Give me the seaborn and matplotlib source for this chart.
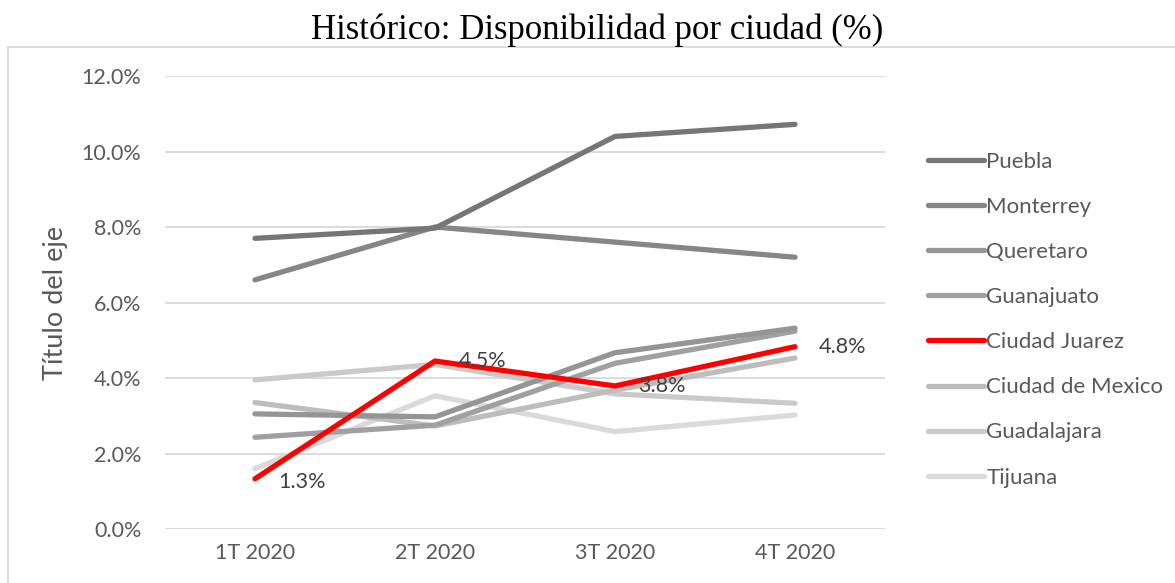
import numpy as np
import pandas as pd
import matplotlib
matplotlib.use('Agg')
import matplotlib.pyplot as plt
import seaborn as sns
from matplotlib.lines import Line2D
from matplotlib.ticker import FuncFormatter

quarters = ['1T 2020', '2T 2020', '3T 2020', '4T 2020']
cities = ['Puebla', 'Monterrey', 'Queretaro', 'Guanajuato', 'Ciudad Juarez',
          'Ciudad de Mexico', 'Guadalajara', 'Tijuana']
puebla = [7.70, 7.97, 10.40, 10.72]
monterrey = [6.60, 8.00, 7.60, 7.20]
queretaro = [3.05, 2.97, 4.67, 5.32]
guanajuato = [2.43, 2.75, 4.39, 5.24]
juarez = [1.33, 4.45, 3.79, 4.83]
cdmx = [3.35, 2.73, 3.68, 4.53]
guadalajara = [3.95, 4.36, 3.58, 3.33]
tijuana = [1.60, 3.53, 2.58, 3.02]
colors = ['#767676', '#868686', '#959595', '#a0a0a0', '#ff0000',
          '#bdbdbd', '#cacaca', '#dadada']

series = [puebla, monterrey, queretaro, guanajuato, juarez, cdmx, guadalajara, tijuana]
df = pd.DataFrame({
    'quarter': quarters * len(cities),
    'x': list(range(len(quarters))) * len(cities),
    'city': np.repeat(cities, len(quarters)),
    'value': np.concatenate(series),
})

sns.set_style('white')
plt.rcParams['font.family'] = ['Lato', 'DejaVu Sans']

fig = plt.figure(figsize=(11.75, 5.83), dpi=100)
ax = fig.add_axes([0.1404, 0.0926, 0.6128, 0.777])

# draw back-to-front so Puebla ends on top like Excel
for city, col in list(zip(cities, colors))[::-1]:
    d = df[df['city'] == city]
    sns.lineplot(data=d, x='x', y='value', color=col, lw=3.8, ax=ax,
                 solid_capstyle='round', solid_joinstyle='round', legend=False,
                 zorder=5 if city == 'Ciudad Juarez' else 3)

# data labels for Ciudad Juarez
for i, v in enumerate(juarez):
    dy = -2 if i == 0 else 0
    ax.annotate(f'{v:.1f}%', (i, v), xytext=(17, dy), textcoords='offset points',
                va='center', ha='left', fontsize=15.5, color='#404040', zorder=6)

ax.set_xlim(-0.5, 3.5)
ax.set_ylim(0, 12)
ax.set_yticks(np.arange(0, 12.1, 2))
ax.yaxis.set_major_formatter(FuncFormatter(lambda v, p: f'{v:.1f}%'))
ax.set_xticks(range(len(quarters)))
ax.set_xticklabels(quarters)
ax.grid(axis='y', color='#d9d9d9', lw=1.3)
ax.grid(axis='x', visible=False)
for s in ax.spines.values():
    s.set_visible(False)
ax.tick_params(axis='both', length=0, labelsize=15.5, labelcolor='#595959')
ax.tick_params(axis='y', pad=17)
ax.tick_params(axis='x', pad=10)
ax.set_xlabel('')
ax.set_ylabel('Título del eje', fontsize=19.5, color='#595959', labelpad=10)

handles = [Line2D([0], [0], color=c, lw=3.8, solid_capstyle='round') for c in colors]
leg = fig.legend(handles, cities, loc='upper left', bbox_to_anchor=(0.773, 0.774),
                 frameon=False, fontsize=16, handlelength=2.5, handletextpad=0.12,
                 labelspacing=1.13, labelcolor='#595959')

fig.text(0.508, 0.948, 'Histórico: Disponibilidad por ciudad (%)', ha='center',
         va='center', fontsize=25, color='#000000', family=['Liberation Serif'])

# chart area border (left and top edges visible)
fig.add_artist(Line2D([8 / 1175, 8 / 1175], [0.0, 1 - 47 / 583], color='#d9d9d9', lw=1.3,
                      transform=fig.transFigure))
fig.add_artist(Line2D([8 / 1175, 1.0], [1 - 47 / 583, 1 - 47 / 583], color='#d9d9d9', lw=1.3,
                      transform=fig.transFigure))

fig.savefig('out.png', dpi=100)
